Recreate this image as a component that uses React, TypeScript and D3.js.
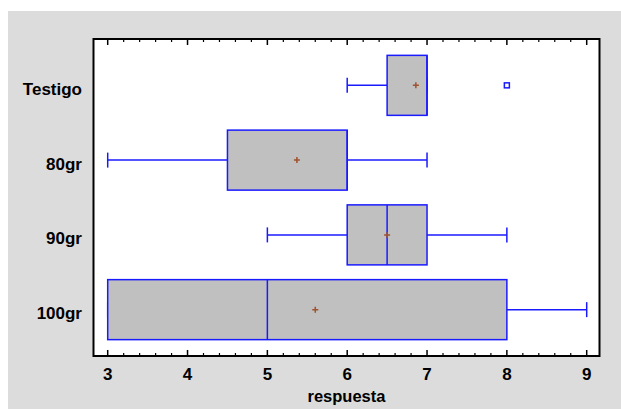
import React from "react";
import * as d3 from "d3";

const categories = ["Testigo", "80gr", "90gr", "100gr"];
const whiskerLow = [6, 3, 5, 3];
const q1 = [6.5, 4.5, 6, 3];
const median = [7, 6, 6.5, 5];
const q3 = [7, 6, 7, 8];
const whiskerHigh = [7, 7, 8, 9];
const means = [6.86, 5.37, 6.5, 5.6];
const outliers: [string, number][] = [["Testigo", 8]];
const xTicks = [3, 4, 5, 6, 7, 8, 9];
const xTitle = "respuesta";

const W = 621;
const H = 409;
const frame = { left: 93.5, right: 599.5, top: 39, bottom: 356 };

export default function App() {
  const x = d3.scaleLinear().domain([3, 9]).range([107.7, 586.7]);
  const y = d3
    .scalePoint<string>()
    .domain(categories)
    .range([frame.top, frame.bottom])
    .padding(0.62);
  const boxH = 60;
  const capH = 15;
  const blue = "#1a1aff";
  const font = "'Liberation Sans', Arial, sans-serif";
  const minor = d3.range(3, 9.0001, 0.2).filter((v) => Math.abs(v - Math.round(v)) > 0.01);

  return (
    <svg
      width={W}
      height={H}
      style={{ position: "absolute", left: 0, top: 0, background: "#fff" }}
      fontFamily={font}
    >
      <rect x={8} y={11} width={W - 8} height={H - 11} fill="#dcdcdc" />
      <rect
        x={frame.left}
        y={frame.top}
        width={frame.right - frame.left}
        height={frame.bottom - frame.top}
        fill="#fff"
      />
      {xTicks.map((t) => (
        <g key={"M" + t}>
          <line x1={x(t)} x2={x(t)} y1={frame.top} y2={frame.top + 6} stroke="#000" strokeWidth={1.5} />
          <line x1={x(t)} x2={x(t)} y1={frame.bottom} y2={frame.bottom - 6} stroke="#000" strokeWidth={1.5} />
          <text x={x(t)} y={380} textAnchor="middle" fontSize={17} fontWeight="bold">
            {t}
          </text>
        </g>
      ))}
      {minor.map((t, i) => (
        <g key={"m" + i}>
          <line x1={x(t)} x2={x(t)} y1={frame.top} y2={frame.top + 3} stroke="#000" strokeWidth={1.2} />
          <line x1={x(t)} x2={x(t)} y1={frame.bottom} y2={frame.bottom - 3} stroke="#000" strokeWidth={1.2} />
        </g>
      ))}
      {categories.map((c, i) => {
        const cy = y(c)!;
        return (
          <g key={c}>
            <line x1={x(whiskerLow[i])} x2={x(q1[i])} y1={cy} y2={cy} stroke={blue} strokeWidth={1.5} />
            <line x1={x(q3[i])} x2={x(whiskerHigh[i])} y1={cy} y2={cy} stroke={blue} strokeWidth={1.5} />
            <line
              x1={x(whiskerLow[i])}
              x2={x(whiskerLow[i])}
              y1={cy - capH / 2}
              y2={cy + capH / 2}
              stroke={blue}
              strokeWidth={1.5}
            />
            <line
              x1={x(whiskerHigh[i])}
              x2={x(whiskerHigh[i])}
              y1={cy - capH / 2}
              y2={cy + capH / 2}
              stroke={blue}
              strokeWidth={1.5}
            />
            <rect
              x={x(q1[i])}
              y={cy - boxH / 2}
              width={x(q3[i]) - x(q1[i])}
              height={boxH}
              fill="#c0c0c0"
              stroke={blue}
              strokeWidth={1.5}
            />
            <line
              x1={x(median[i])}
              x2={x(median[i])}
              y1={cy - boxH / 2}
              y2={cy + boxH / 2}
              stroke={blue}
              strokeWidth={1.5}
            />
            <path
              d={`M${x(means[i]) - 3},${cy}H${x(means[i]) + 3}M${x(means[i])},${cy - 3}V${cy + 3}`}
              stroke="#a0522d"
              strokeWidth={1.5}
            />
            <text x={82} y={cy + 9.5} textAnchor="end" fontSize={17} fontWeight="bold">
              {c}
            </text>
          </g>
        );
      })}
      {outliers.map(([c, v], i) => (
        <rect
          key={"o" + i}
          x={x(v) - 2.5}
          y={y(c)! - 2.5}
          width={5}
          height={5}
          fill="#fff"
          stroke={blue}
          strokeWidth={1.5}
        />
      ))}
      <rect
        x={frame.left}
        y={frame.top}
        width={frame.right - frame.left}
        height={frame.bottom - frame.top}
        fill="none"
        stroke="#000"
        strokeWidth={2}
      />
      <text
        x={(frame.left + frame.right) / 2}
        y={401.5}
        textAnchor="middle"
        fontSize={16.5}
        fontWeight="bold"
      >
        {xTitle}
      </text>
    </svg>
  );
}
